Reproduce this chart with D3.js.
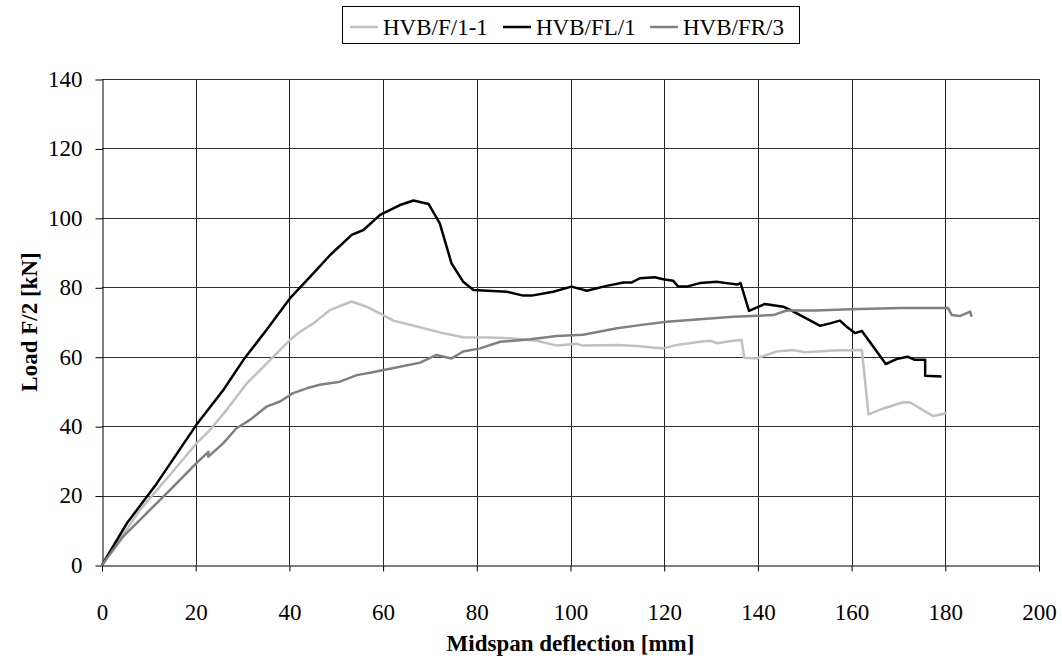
<!DOCTYPE html>
<html>
<head>
<meta charset="utf-8">
<script src="https://cdn.jsdelivr.net/npm/d3@7"></script>
<style>
  body { margin: 0; background: #fff; }
  svg { display: block; font-family: "Liberation Serif", "Times New Roman", serif; }
</style>
</head>
<body>
<svg width="1062" height="659"></svg>
<script>
// series names, legend order
const seriesNames = ["HVB/F/1-1", "HVB/FL/1", "HVB/FR/3"];
const seriesColors = ["#c0c0c0", "#000000", "#808080"];

// [deflection mm, load kN]
const seriesF11 = [
  [0, 0], [8.1, 15.8], [16.6, 29.3], [20.2, 35.1], [22.7, 38.4], [26.6, 44.7],
  [30.9, 52.3], [35.9, 59.1], [40.1, 64.8], [42.3, 67.2], [45.1, 69.6], [48.7, 73.5],
  [53.3, 75.9], [56.5, 74.4], [60.0, 72.0], [62.2, 70.4], [67.2, 68.7], [72.1, 67.0],
  [77.1, 65.6], [82.8, 65.5], [87.1, 65.3], [92.8, 64.6], [97.1, 63.2], [101.3, 63.7],
  [102.7, 63.2], [109.9, 63.4], [114.1, 63.1], [119.8, 62.4], [122.7, 63.4], [127.6, 64.3],
  [129.8, 64.6], [131.2, 63.9], [134.7, 64.6], [136.5, 64.8], [137.1, 59.7], [139.7, 59.5],
  [144.0, 61.5], [147.6, 61.9], [150.1, 61.3], [156.1, 61.8], [162.2, 61.9], [163.6, 43.4],
  [166.8, 45.1], [171.0, 46.9], [172.5, 46.8], [177.4, 42.9], [180.3, 43.7]
];

const seriesFL1 = [
  [0, 0], [5.3, 12.0], [11.7, 23.5], [20.1, 40.3], [25.9, 50.4], [30.2, 59.1],
  [35.1, 67.7], [40.1, 76.8], [45.1, 84.0], [48.7, 89.3], [53.3, 95.1], [55.8, 96.5],
  [59.3, 100.8], [60.0, 101.3], [63.6, 103.7], [66.5, 105.0], [69.7, 104.0], [72.1, 98.4],
  [74.6, 86.9], [77.1, 81.6], [79.3, 79.2], [86.4, 78.7], [89.9, 77.6], [91.7, 77.6],
  [96.3, 78.7], [100.2, 80.2], [103.5, 79.0], [107.7, 80.4], [111.3, 81.4], [113.1, 81.4],
  [114.8, 82.6], [118.0, 82.9], [119.8, 82.3], [121.9, 81.9], [123.0, 80.2], [124.8, 80.2],
  [127.6, 81.2], [131.2, 81.6], [133.3, 81.2], [135.6, 80.8], [136.3, 81.2], [138.1, 73.2],
  [141.5, 75.2], [145.4, 74.4], [146.9, 73.5], [153.3, 68.9], [155.4, 69.6], [157.5, 70.4],
  [158.9, 68.7], [160.7, 66.8], [162.2, 67.4], [167.3, 57.9], [169.6, 59.3], [171.9, 60.0],
  [173.5, 59.1], [175.7, 59.1], [175.7, 54.5], [179.2, 54.3]
];

const seriesFR3 = [
  [0, 0], [4.5, 8.2], [9.5, 14.9], [14.5, 21.6], [20.1, 29.3], [22.7, 32.6],
  [22.7, 31.2], [25.9, 35.1], [28.7, 39.4], [31.6, 41.8], [35.1, 45.6], [38.0, 47.1],
  [40.8, 49.5], [43.7, 50.9], [46.5, 51.9], [50.8, 52.8], [54.4, 54.7], [57.2, 55.4],
  [63.6, 57.1], [67.9, 58.3], [71.4, 60.5], [74.6, 59.5], [77.1, 61.5], [80.7, 62.4],
  [85.0, 64.3], [91.4, 65.0], [97.1, 66.0], [102.7, 66.3], [109.9, 68.2], [114.8, 69.1],
  [120.5, 70.1], [125.5, 70.6], [134.7, 71.5], [143.3, 72.0], [146.1, 73.3], [152.5, 73.3],
  [159.7, 73.7], [170.3, 74.0], [180.6, 74.0], [181.4, 72.0], [183.1, 71.7], [185.3, 73.0],
  [185.6, 71.5]
];

const xTicks = [0, 20, 40, 60, 80, 100, 120, 140, 160, 180, 200];
const yTicks = [0, 20, 40, 60, 80, 100, 120, 140];

const allSeries = [seriesF11, seriesFL1, seriesFR3];

const svg = d3.select("svg");
const plot = { left: 102, right: 1039, top: 79, bottom: 565 };

const x = d3.scaleLinear().domain([0, 200]).range([plot.left, plot.right]);
const y = d3.scaleLinear().domain([0, 140]).range([plot.bottom, plot.top]);

// grid
svg.append("g")
  .selectAll("line.vg")
  .data(xTicks.slice(1))
  .enter()
  .append("line")
  .attr("x1", (d) => Math.round(x(d)) + 0.5)
  .attr("x2", (d) => Math.round(x(d)) + 0.5)
  .attr("y1", plot.top)
  .attr("y2", plot.bottom)
  .attr("stroke", "#222")
  .attr("stroke-width", 1);

svg.append("g")
  .selectAll("line.hg")
  .data(yTicks.slice(1))
  .enter()
  .append("line")
  .attr("x1", plot.left)
  .attr("x2", plot.right)
  .attr("y1", (d) => Math.round(y(d)) + 0.5)
  .attr("y2", (d) => Math.round(y(d)) + 0.5)
  .attr("stroke", "#333")
  .attr("stroke-width", 1);

// axes
const xAxis = svg.append("g")
  .attr("transform", `translate(0,${Math.round(plot.bottom) + 0.5})`)
  .call(d3.axisBottom(x).tickValues(xTicks).tickSize(6).tickPadding(32).tickSizeOuter(0));

const yAxis = svg.append("g")
  .attr("transform", `translate(${plot.left + 0.5},0)`)
  .call(d3.axisLeft(y).tickValues(yTicks).tickSize(7).tickPadding(13).tickSizeOuter(0));

[xAxis, yAxis].forEach((g) => {
  g.selectAll("path, line").attr("stroke", "#000").attr("stroke-width", 1);
  g.selectAll("text")
    .attr("fill", "#000")
    .style("font-size", "23px")
    .style("font-family", '"Liberation Serif", "Times New Roman", serif');
});
yAxis.selectAll(".tick line").attr("transform", "translate(0,0.5)");

// series lines
const line = d3.line()
  .x((d) => x(d[0]))
  .y((d) => y(d[1]));

svg.append("g")
  .selectAll("path.series")
  .data(allSeries)
  .enter()
  .append("path")
  .attr("class", "series")
  .attr("d", line)
  .attr("fill", "none")
  .attr("stroke", (d, i) => seriesColors[i])
  .attr("stroke-width", 2.5)
  .attr("stroke-linejoin", "round");

// axis titles
svg.append("text")
  .attr("x", (plot.left + plot.right) / 2)
  .attr("y", 651)
  .attr("text-anchor", "middle")
  .style("font-size", "23px")
  .style("font-weight", "bold")
  .text("Midspan deflection [mm]");

svg.append("text")
  .attr("transform", `translate(37,${(plot.top + plot.bottom) / 2}) rotate(-90)`)
  .attr("text-anchor", "middle")
  .style("font-size", "23px")
  .style("font-weight", "bold")
  .text("Load F/2 [kN]");

// legend
const legend = svg.append("g");
legend.append("rect")
  .attr("x", 342.5)
  .attr("y", 6.5)
  .attr("width", 457)
  .attr("height", 37)
  .attr("fill", "#fff")
  .attr("stroke", "#000");

const legendX = [350, 503, 650];
const items = legend.selectAll("g.item")
  .data(seriesNames)
  .enter()
  .append("g")
  .attr("transform", (d, i) => `translate(${legendX[i]},0)`);

items.append("line")
  .attr("x1", 0)
  .attr("x2", 28)
  .attr("y1", 27)
  .attr("y2", 27)
  .attr("stroke", (d, i) => seriesColors[i])
  .attr("stroke-width", 2.5);

items.append("text")
  .attr("x", 33)
  .attr("y", 35)
  .style("font-size", "23px")
  .text((d) => d);
</script>
</body>
</html>
